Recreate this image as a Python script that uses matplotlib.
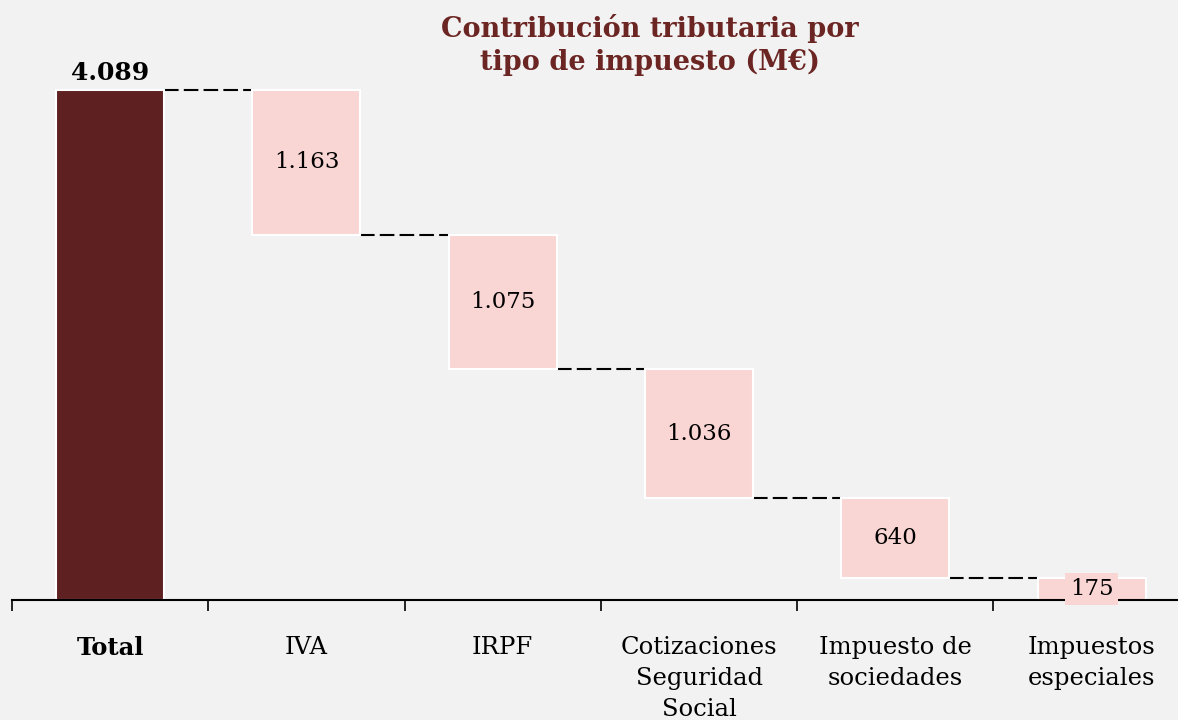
import matplotlib
matplotlib.use("Agg")
import matplotlib.pyplot as plt
import numpy as np

plt.rcParams.update({
    "font.family": ["DejaVu Serif"],
    "figure.dpi": 100,
})

categories = ["Total", "IVA", "IRPF", "Cotizaciones\nSeguridad\nSocial",
              "Impuesto de\nsociedades", "Impuestos\nespeciales"]
total = 4089
parts = [1163, 1075, 1036, 640, 175]
value_labels = ["4.089", "1.163", "1.075", "1.036", "640", "175"]

BG = "#f2f2f2"
DARK = "#5e2020"
PINK = "#f9d6d3"
TITLE_C = "#6b2523"

fig = plt.figure(figsize=(11.78, 7.2), facecolor=BG)
ax = fig.add_axes([12 / 1178, 120 / 720, 1166 / 1178, 549 / 720], facecolor=BG)

x = np.arange(len(categories))
width = 0.55

# running levels for the waterfall
tops = [total]
level = total
for p in parts:
    level -= p
    tops.append(level + p)
bottoms = [0] + [t - p for t, p in zip(tops[1:], parts)]
heights = [total] + parts
colors = [DARK] + [PINK] * len(parts)

ax.bar(x, heights, bottom=bottoms, width=width, color=colors,
       edgecolor="white", linewidth=1.5, zorder=2)

# dashed connectors
for i in range(len(categories) - 1):
    lvl = bottoms[i] if i > 0 else total
    ax.plot([x[i] + width / 2, x[i + 1] - width / 2], [lvl, lvl],
            color="black", linestyle=(0, (7, 2.5)), linewidth=1.5, zorder=1)

# value labels
ax.text(x[0], total + 40, value_labels[0], ha="center", va="bottom",
        fontsize=18, fontweight="bold", color="black")
for i in range(1, len(categories)):
    ax.text(x[i], bottoms[i] + heights[i] / 2, value_labels[i],
            ha="center", va="center", fontsize=16.5, color="black", zorder=3,
            bbox=dict(boxstyle="square,pad=0.22", facecolor=PINK, edgecolor="none"))

ax.set_xlim(-0.5, 5.44)
ax.set_ylim(0, 4400)
ax.set_yticks([])
for s in ["top", "right", "left"]:
    ax.spines[s].set_visible(False)
ax.spines["bottom"].set_linewidth(1.5)

ax.set_xticks(np.arange(-0.5, 5.5, 1.0))
ax.set_xticklabels([])
ax.tick_params(axis="x", length=8, width=1.2, direction="out")
ax.set_xticks(x, minor=True)
ax.set_xticklabels(categories, minor=True, fontsize=17.5, linespacing=1.45)
ax.tick_params(axis="x", which="minor", length=0, pad=26)
for lbl in ax.get_xticklabels(minor=True):
    if lbl.get_text() == "Total":
        lbl.set_fontweight("bold")
    lbl.set_verticalalignment("top")

fig.text(650 / 1178, 1 - 45 / 720, "Contribución tributaria por\ntipo de impuesto (M€)",
         ha="center", va="center", fontsize=19.5, fontweight="bold",
         color=TITLE_C, linespacing=1.25)

fig.savefig("out.png", facecolor=BG)
